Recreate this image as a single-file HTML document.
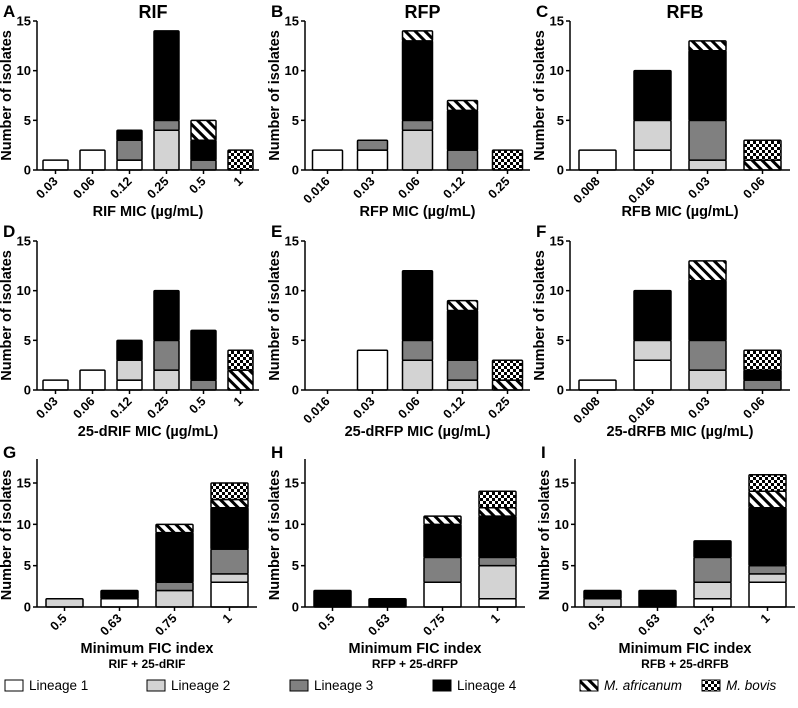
<!DOCTYPE html>
<html><head><meta charset="utf-8"><style>
body{margin:0;background:#fff;}
svg{display:block;font-family:"Liberation Sans",Arial,sans-serif;}
</style></head><body>
<svg id="c" width="798" height="708">
<defs>
<pattern id="hatch" patternUnits="userSpaceOnUse" width="7" height="7" patternTransform="rotate(45)">
<rect width="7" height="7" fill="#fff"/><rect x="0" y="0" width="7" height="3" fill="#000"/>
</pattern>
<pattern id="check" patternUnits="userSpaceOnUse" width="6" height="6">
<rect width="6" height="6" fill="#fff"/><rect width="3" height="3" fill="#000"/><rect x="3" y="3" width="3" height="3" fill="#000"/>
</pattern>
</defs>
</svg>
<script>
const seriesNames=["Lineage 1","Lineage 2","Lineage 3","Lineage 4","M. africanum","M. bovis"];
const fills=["#fff","#d3d3d3","#808080","#000","url(#hatch)","url(#check)"];
const catsA=["0.03","0.06","0.12","0.25","0.5","1"];
const dataA=[[1,0,0,0,0,0],[2,0,0,0,0,0],[1,0,2,1,0,0],[0,4,1,9,0,0],[0,0,1,2,2,0],[0,0,0,0,0,2]];
const catsB=["0.016","0.03","0.06","0.12","0.25"];
const dataB=[[2,0,0,0,0,0],[2,0,1,0,0,0],[0,4,1,8,1,0],[0,0,2,4,1,0],[0,0,0,0,0,2]];
const catsC=["0.008","0.016","0.03","0.06"];
const dataC=[[2,0,0,0,0,0],[2,3,0,5,0,0],[0,1,4,7,1,0],[0,0,0,0,1,2]];
const dataD=[[1,0,0,0,0,0],[2,0,0,0,0,0],[1,2,0,2,0,0],[0,2,3,5,0,0],[0,0,1,5,0,0],[0,0,0,0,2,2]];
const dataE=[[0,0,0,0,0,0],[4,0,0,0,0,0],[0,3,2,7,0,0],[0,1,2,5,1,0],[0,0,0,0,1,2]];
const dataF=[[1,0,0,0,0,0],[3,2,0,5,0,0],[0,2,3,6,2,0],[0,0,1,1,0,2]];
const catsFIC=["0.5","0.63","0.75","1"];
const dataG=[[0,1,0,0,0,0],[1,0,0,1,0,0],[0,2,1,6,1,0],[3,1,3,5,1,2]];
const dataH=[[0,0,0,2,0,0],[0,0,0,1,0,0],[3,0,3,4,1,0],[1,4,1,5,1,2]];
const dataI=[[0,1,0,1,0,0],[0,0,0,2,0,0],[1,2,3,2,0,0],[3,1,1,7,2,2]];
const yTicks15=[0,5,10,15];

const svg=document.getElementById('c');
const NS="http://www.w3.org/2000/svg";
function mk(tag,attrs,parent){const e=document.createElementNS(NS,tag);for(const k in attrs)e.setAttribute(k,attrs[k]);(parent||svg).appendChild(e);return e;}
function txt(s,attrs,parent){const e=mk('text',attrs,parent);e.textContent=s;return e;}

const panels=[
 {id:'A',cats:catsA,data:dataA,x0:37,band:37,bw:25,y0:170,top:21,ymax:15,title:'RIF',xl:['RIF MIC (µg/mL)']},
 {id:'B',cats:catsB,data:dataB,x0:305,band:45,bw:30,y0:170,top:21,ymax:15,title:'RFP',xl:['RFP MIC (µg/mL)']},
 {id:'C',cats:catsC,data:dataC,x0:570,band:55,bw:37,y0:170,top:21,ymax:15,title:'RFB',xl:['RFB MIC (µg/mL)']},
 {id:'D',cats:catsA,data:dataD,x0:37,band:37,bw:25,y0:390,top:241,ymax:15,xl:['25-dRIF MIC (µg/mL)']},
 {id:'E',cats:catsB,data:dataE,x0:305,band:45,bw:30,y0:390,top:241,ymax:15,xl:['25-dRFP MIC (µg/mL)']},
 {id:'F',cats:catsC,data:dataF,x0:570,band:55,bw:37,y0:390,top:241,ymax:15,xl:['25-dRFB MIC (µg/mL)']},
 {id:'G',cats:catsFIC,data:dataG,x0:37,band:55,bw:37,y0:607,top:483,ymax:15,axTop:459,xl:['Minimum FIC index','RIF + 25-dRIF']},
 {id:'H',cats:catsFIC,data:dataH,x0:305,band:55,bw:37,y0:607,top:483,ymax:15,axTop:459,xl:['Minimum FIC index','RFP + 25-dRFP']},
 {id:'I',cats:catsFIC,data:dataI,x0:575,band:55,bw:37,y0:607,top:483,ymax:15,axTop:459,xl:['Minimum FIC index','RFB + 25-dRFB']},
];
panels.forEach(p=>{
 const g=mk('g',{});
 
 
 const y=v=>p.y0-(p.y0-p.top)*v/p.ymax;
 const xc=i=>p.x0+p.band*(i+0.5);
 const xEnd=p.x0+p.band*p.cats.length;
 p.data.forEach((stack,i)=>{
  let acc=0;
  stack.forEach((v,s)=>{
   if(!v)return;
   const r=mk('rect',{x:xc(i)-p.bw/2,y:y(acc+v),width:p.bw,height:y(acc)-y(acc+v),fill:fills[s],stroke:'#000','stroke-width':1.5,rx:1},g);
   
   
   acc+=v;
  });
 });
 const at=p.axTop||p.top;
 const ya=mk('line',{x1:p.x0,y1:at,x2:p.x0,y2:p.y0,stroke:'#000','stroke-width':1.5},g);
 
 const xa=mk('line',{x1:p.x0,y1:p.y0,x2:xEnd,y2:p.y0,stroke:'#000','stroke-width':1.5},g);
 
 yTicks15.forEach(t=>{
  mk('line',{x1:p.x0-4,y1:y(t),x2:p.x0,y2:y(t),stroke:'#000','stroke-width':1.5},g);
  const l=txt(String(t),{x:p.x0-6,y:y(t)+4.5,'text-anchor':'end','font-size':13,'font-weight':'bold'},g);
  
 });
 p.cats.forEach((c,i)=>{
  mk('line',{x1:xc(i),y1:p.y0,x2:xc(i),y2:p.y0+4,stroke:'#000','stroke-width':1.5},g);
  const l=txt(c,{x:xc(i)+3,y:p.y0+12,'text-anchor':'end','font-size':12.5,'font-weight':'bold',transform:`rotate(-45 ${xc(i)+3} ${p.y0+12})`},g);
  
 });
 const mid=(p.x0+xEnd)/2;
 p.xl.forEach((s,k)=>{
  const l=txt(s,{x:mid,y:p.y0+46+k*15,'text-anchor':'middle','font-size':k?12:14.5,'font-weight':'bold'},g);
  
 });
 const yl=(p.top+p.y0)/2+(p.axTop?-10:0);
 const yt=txt('Number of isolates',{x:p.x0-26,y:yl,'text-anchor':'middle','font-size':14.5,'font-weight':'bold',transform:`rotate(-90 ${p.x0-26} ${yl})`},g);
 
 const lt=txt(p.id,{x:p.x0-34,y:(p.axTop||p.top)-4+(p.axTop?3:0),'font-size':17,'font-weight':'bold'},g);
 
 if(p.title){
  const t=txt(p.title,{x:mid+5,y:18,'text-anchor':'middle','font-size':18,'font-weight':'bold'},g);
  
 }
});
const lx=[5,147,290,433,580,702];
const leg=mk('g',{});

seriesNames.forEach((n,i)=>{
 const e=mk('g',{},leg);
 
 mk('rect',{x:lx[i],y:680,width:18,height:11,fill:fills[i],stroke:'#000','stroke-width':1},e);
 let t;
 if(i>=4){
  t=txt('',{x:lx[i]+24,y:690,'font-size':13.5},e);
  const a=document.createElementNS(NS,'tspan');a.setAttribute('font-style','italic');a.textContent=n;t.appendChild(a);
 } else t=txt(n,{x:lx[i]+24,y:690,'font-size':13.5},e);
});
</script>
</body></html>
